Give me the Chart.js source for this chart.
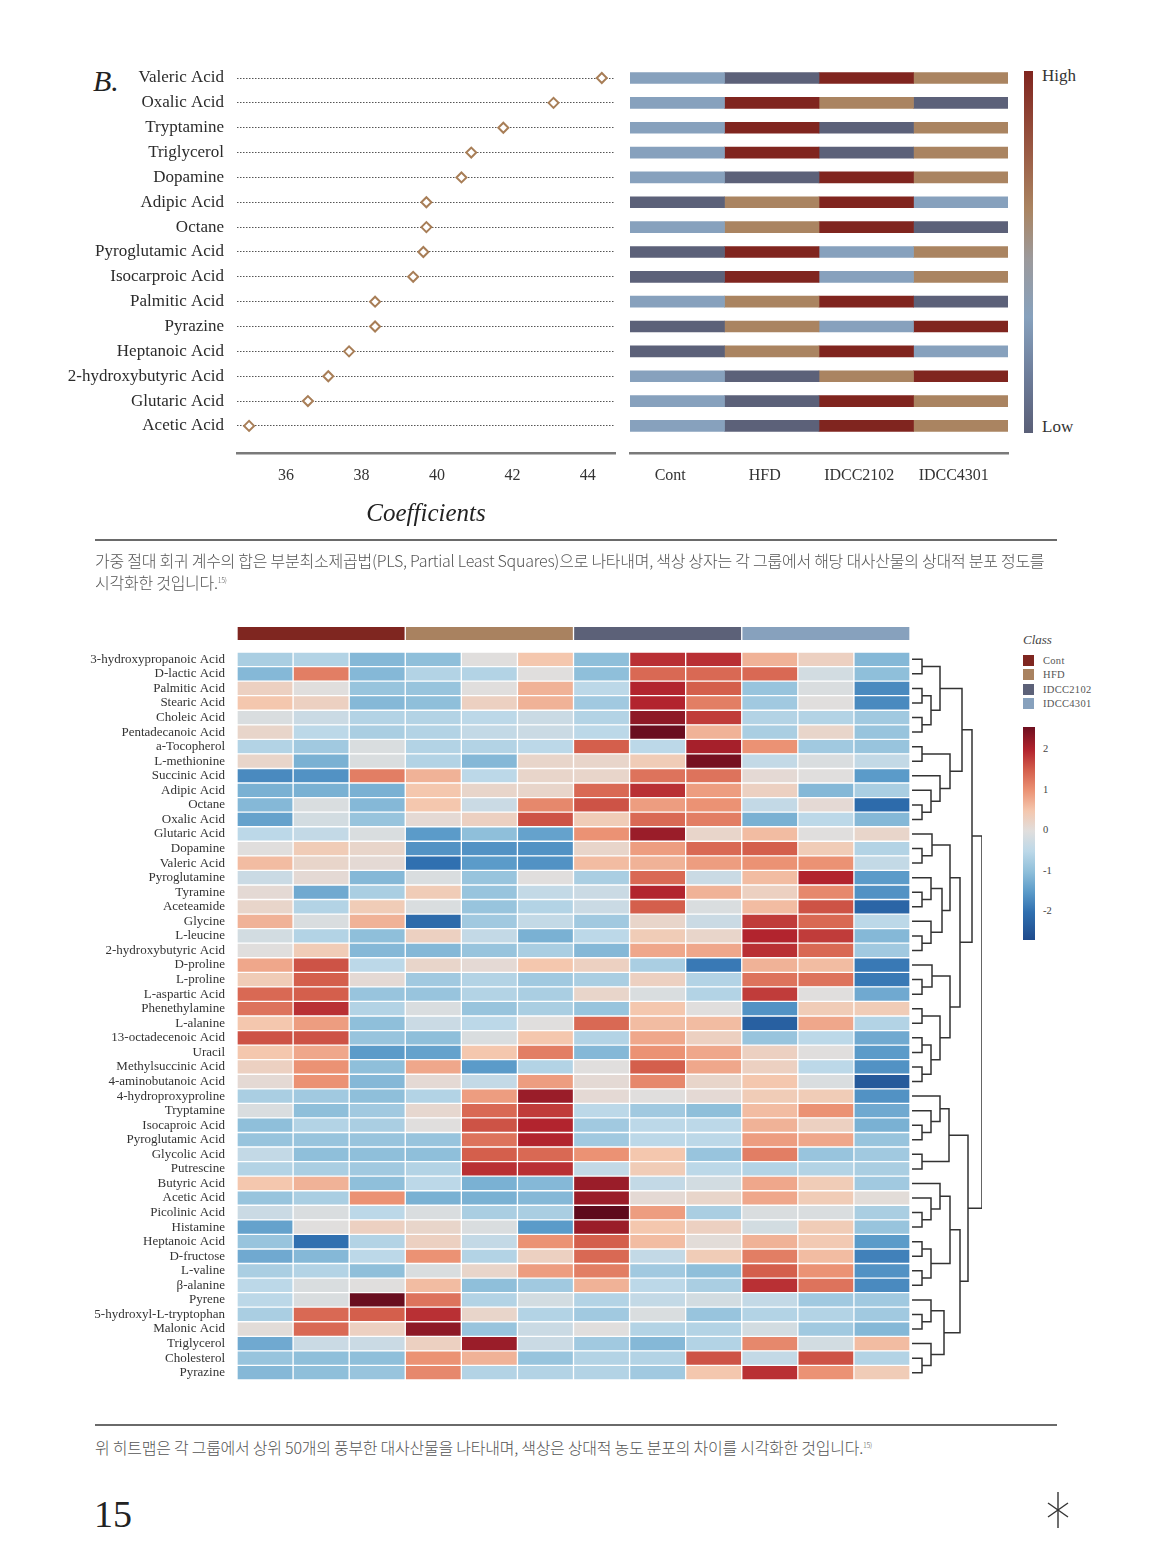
<!DOCTYPE html>
<html>
<head>
<meta charset="utf-8">
<script src="https://cdn.jsdelivr.net/npm/chart.js@4.4.1/dist/chart.umd.min.js"></script>
<style>
    body { margin: 0; width: 1157px; height: 1564px; position: relative; overflow: hidden; background: #fff; font-family: 'Liberation Serif', serif; color: #333; }
    canvas { position: absolute; }
    .txt { position: absolute; white-space: nowrap; }
    .rule { position: absolute; left: 95px; width: 962px; height: 2px; background: #6a6a6a; }
    .cap { position: absolute; left: 95px; font-family: 'Noto Sans CJK KR', sans-serif; font-weight: 300; font-size: 16px; line-height: 20px; color: #555; letter-spacing: -0.25px; white-space: nowrap; }
    .cap sup { font-size: 7px; }
    .leg-item { position: absolute; left: 1023px; height: 11px; font-size: 10.5px; line-height: 11px; color: #555; }
    .leg-item span { position: absolute; left: 0; top: 0; width: 11px; height: 11px; }
    .leg-item b { position: absolute; left: 20px; top: 0; font-weight: normal; letter-spacing: 0.3px; }
</style>
</head>
<body>

<div class="txt" style="left:93px; top:64px; font-size:30px; font-style:italic; color:#222;">B.</div>

<canvas id="coefChart" width="620" height="480" style="left:0; top:60px;"></canvas>
<canvas id="rankChart" width="400" height="480" style="left:620px; top:60px;"></canvas>

<div id="rankBar" style="position:absolute; left:1024px; top:71px; width:9px; height:362px;"></div>
<div class="txt" style="left:1042px; top:66px; font-size:17px;">High</div>
<div class="txt" style="left:1042px; top:417px; font-size:17px;">Low</div>

<div class="rule" style="top:539px;"></div>
<div class="cap" style="top:550px;">가중 절대 회귀 계수의 합은 부분최소제곱법(PLS, Partial Least Squares)으로 나타내며, 색상 상자는 각 그룹에서 해당 대사산물의 상대적 분포 정도를<br>시각화한 것입니다.<sup>15)</sup></div>

<canvas id="classChart" width="690" height="30" style="left:230px; top:620px;"></canvas>
<canvas id="heatChart" width="920" height="745" style="left:0; top:645px;"></canvas>
<canvas id="dendroChart" width="85" height="745" style="left:905px; top:645px;"></canvas>

<div class="txt" style="left:1023px; top:632px; font-size:13px; font-style:italic; color:#444;">Class</div>
<div id="classLegend"></div>
<div id="heatBar" style="position:absolute; left:1023px; top:727px; width:12px; height:213px;"></div>
<div id="heatBarTicks"></div>

<div class="rule" style="top:1424px;"></div>
<div class="cap" style="top:1435px;">위 히트맵은 각 그룹에서 상위 50개의 풍부한 대사산물을 나타내며, 색상은 상대적 농도 분포의 차이를 시각화한 것입니다.<sup>15)</sup></div>

<div class="txt" style="left:94px; top:1492px; font-size:38px; color:#222;">15</div>
<svg style="position:absolute; left:1045px; top:1492px;" width="26" height="36">
    <g stroke="#333" stroke-width="1.4">
        <line x1="13" y1="0" x2="13" y2="36"/>
        <line x1="3" y1="11" x2="23" y2="25"/>
        <line x1="3" y1="25" x2="23" y2="11"/>
    </g>
</svg>

<script>
// ---- Datos: gráfico de coeficientes (PLS) ----
const coefLabels = ['Valeric Acid', 'Oxalic Acid', 'Tryptamine', 'Triglycerol', 'Dopamine', 'Adipic Acid', 'Octane',
    'Pyroglutamic Acid', 'Isocarproic Acid', 'Palmitic Acid', 'Pyrazine', 'Heptanoic Acid', '2-hydroxybutyric Acid',
    'Glutaric Acid', 'Acetic Acid'];
const coefValues = [44.37, 43.09, 41.76, 40.91, 40.65, 39.72, 39.72, 39.64, 39.37, 38.36, 38.36, 37.67, 37.12, 36.58, 35.02];
const coefTicks = [36, 38, 40, 42, 44];

// ---- Datos: cajas de color (1 = bajo ... 4 = alto) ----
const groupNames = ['Cont', 'HFD', 'IDCC2102', 'IDCC4301'];
const rankCont = [2, 2, 2, 2, 2, 1, 2, 1, 1, 2, 1, 1, 2, 2, 2];
const rankHFD = [1, 4, 4, 4, 1, 3, 3, 4, 4, 3, 3, 3, 1, 1, 1];
const rankIDCC2102 = [4, 3, 1, 1, 4, 4, 4, 2, 2, 4, 2, 4, 3, 4, 4];
const rankIDCC4301 = [3, 1, 3, 3, 3, 2, 1, 3, 3, 1, 4, 2, 4, 3, 3];

// ---- Datos: heatmap ----
const sampleNames = ['Cont1', 'Cont2', 'Cont3', 'HFD1', 'HFD2', 'HFD3', 'IDCC2102_1', 'IDCC2102_2', 'IDCC2102_3',
    'IDCC4301_1', 'IDCC4301_2', 'IDCC4301_3'];
const classSizes = [3, 3, 3, 3];
const metaboliteNames = ['3-hydroxypropanoic Acid', 'D-lactic Acid', 'Palmitic Acid', 'Stearic Acid', 'Choleic Acid',
    'Pentadecanoic Acid', 'a-Tocopherol', 'L-methionine', 'Succinic Acid', 'Adipic Acid', 'Octane', 'Oxalic Acid',
    'Glutaric Acid', 'Dopamine', 'Valeric Acid', 'Pyroglutamine', 'Tyramine', 'Aceteamide', 'Glycine', 'L-leucine',
    '2-hydroxybutyric Acid', 'D-proline', 'L-proline', 'L-aspartic Acid', 'Phenethylamine', 'L-alanine',
    '13-octadecenoic Acid', 'Uracil', 'Methylsuccinic Acid', '4-aminobutanoic Acid', '4-hydroproxyproline',
    'Tryptamine', 'Isocaproic Acid', 'Pyroglutamic Acid', 'Glycolic Acid', 'Putrescine', 'Butyric Acid',
    'Acetic Acid', 'Picolinic Acid', 'Histamine', 'Heptanoic Acid', 'D-fructose', 'L-valine', 'β-alanine',
    'Pyrene', '5-hydroxyl-L-tryptophan', 'Malonic Acid', 'Triglycerol', 'Cholesterol', 'Pyrazine'];
const heatValues = [
    [-0.7, -0.6, -1.1, -1.0, 0.0, 0.5, -1.0, 1.9, 1.9, 0.7, 0.3, -1.1],
    [-1.1, 1.2, -1.1, -0.6, -0.6, 0.0, -1.0, 1.4, 1.4, 1.4, -0.2, -1.0],
    [0.3, 0.0, -0.9, -0.9, 0.0, 0.7, -0.5, 2.0, 1.5, -0.9, -0.1, -1.7],
    [0.5, 0.3, -1.1, -1.0, 0.3, 0.7, -0.8, 2.0, 1.2, -0.8, 0.0, -1.7],
    [-0.1, -0.3, -0.6, -0.6, -0.5, -0.3, -0.6, 2.3, 1.8, -0.6, -0.6, -0.8],
    [0.2, -0.5, -0.7, -0.6, -0.4, -0.3, -0.5, 2.6, 0.7, -0.7, 0.2, -0.9],
    [-0.6, -0.8, -0.1, -0.6, -0.6, -0.5, 1.5, -0.5, 2.1, 1.0, -0.8, -0.9],
    [0.2, -1.2, -0.1, -0.6, -1.1, 0.2, 0.2, 0.4, 2.5, -0.4, -0.1, -0.4],
    [-1.7, -1.6, 1.2, 0.7, -0.5, 0.2, 0.2, 1.3, 1.3, 0.1, 0.0, -1.5],
    [-1.2, -1.2, -1.2, 0.5, 0.2, 0.2, 1.4, 1.9, 0.9, 0.3, -1.1, -0.7],
    [-1.1, -0.1, -1.1, 0.5, -0.3, 1.1, 1.6, 0.9, 1.0, -0.4, 0.1, -2.1],
    [-1.4, -0.2, -0.9, 0.1, 0.3, 1.6, 0.4, 1.4, 1.2, -1.2, -0.5, -1.1],
    [-0.5, -0.4, -0.1, -1.5, -1.0, -1.4, 1.0, 2.2, 0.2, 0.6, 0.0, 0.2],
    [0.0, 0.4, 0.2, -1.6, -1.6, -1.6, 0.2, 0.9, 1.4, 1.5, 0.4, -0.6],
    [0.6, 0.2, 0.1, -2.0, -1.5, -1.6, 0.6, 0.7, 0.9, 1.0, 1.0, -0.4],
    [-0.3, 0.1, -1.1, -0.1, -0.9, 0.0, -0.7, 1.4, -0.3, 0.6, 2.0, -1.5],
    [0.1, -1.3, -0.7, 0.4, -0.9, -0.4, -0.3, 2.0, 0.7, 0.3, 1.1, -1.6],
    [0.2, -0.6, 0.4, -0.1, -0.9, -0.6, -0.3, 1.5, -0.1, 0.6, 1.6, -2.2],
    [0.7, -0.1, 0.7, -2.1, -0.8, -0.4, -0.8, 0.2, -0.3, 1.8, 1.4, -0.5],
    [-0.2, -0.6, -1.0, 0.3, -0.4, -1.2, -0.5, 0.4, 0.2, 2.0, 1.8, -1.1],
    [0.0, 0.4, -1.1, -1.1, -0.9, -0.7, -1.1, 0.8, 0.8, 1.9, 1.4, -0.8],
    [0.8, 1.6, -0.5, 0.2, 0.1, 0.5, 0.3, -0.7, -1.9, 0.7, 0.6, -1.9],
    [0.4, 1.5, 0.1, -0.8, -0.6, -0.8, -0.7, 0.3, -0.6, 1.3, 1.3, -1.9],
    [1.4, 1.5, -0.9, -0.9, -0.6, -0.7, 0.2, -0.1, -0.6, 1.8, 0.0, -1.3],
    [1.3, 1.9, -0.6, -0.1, -0.9, -0.7, -0.9, 0.5, 0.0, -1.6, 0.4, 0.4],
    [0.5, 0.9, -1.0, -0.3, -0.5, 0.0, 1.4, 0.6, 0.6, -2.3, 0.8, -0.6],
    [1.6, 1.6, -0.9, -1.0, -0.1, 0.5, -0.6, 0.8, 0.3, -0.9, -0.5, -1.3],
    [0.5, 0.8, -1.5, -1.4, 0.5, 1.2, -1.1, 1.0, 0.8, 0.3, 0.0, -1.5],
    [0.3, 1.0, -1.0, 0.8, -1.5, -0.6, 0.0, 1.5, 0.8, 0.3, -0.5, -1.6],
    [0.1, 1.0, -1.1, 0.1, -0.4, 0.9, 0.1, 1.1, 0.2, 0.5, -0.1, -2.4],
    [-0.7, -0.8, -1.0, -0.6, 0.9, 2.2, 0.1, 0.0, 0.1, 0.4, 0.4, -1.6],
    [-0.1, -1.0, -0.8, 0.15, 1.4, 1.8, -0.5, -0.8, -1.0, 0.6, 1.0, -1.3],
    [-1.0, -0.6, -0.7, 0.0, 1.6, 2.0, -0.8, -0.5, -0.5, 0.7, 0.3, -1.2],
    [-0.9, -0.9, -0.9, -0.9, 1.3, 2.0, -0.8, -0.5, -0.5, 0.9, 0.8, -0.9],
    [-0.4, -1.0, -1.0, -1.0, 1.5, 1.4, 1.0, 0.5, -0.9, 1.2, -0.9, -0.8],
    [-0.6, -0.7, -0.8, -0.6, 1.9, 1.9, -0.4, 0.4, -0.5, -0.6, -0.6, -0.7],
    [0.5, 0.7, -1.0, -0.5, -1.2, -1.1, 2.2, -0.4, -0.2, 0.8, 0.4, -0.8],
    [-0.9, -0.7, 1.0, -1.2, -1.2, -1.1, 2.2, 0.1, 0.2, 0.8, 0.4, 0.05],
    [-0.3, -0.1, -0.5, -0.1, -0.7, -0.7, 2.7, 0.9, -0.7, -0.1, -0.1, -0.7],
    [-1.4, 0.0, 0.3, 0.2, -0.1, -1.5, 2.2, 0.5, 0.3, -0.2, 0.4, -0.9],
    [-0.9, -2.0, -0.6, 0.3, -0.4, 1.0, 1.5, 0.6, 0.05, 0.7, 0.45, -1.5],
    [-1.3, -1.1, -0.5, 1.0, -0.6, 0.3, 1.4, -0.4, 0.4, 1.2, 0.6, -1.8],
    [-0.7, -0.6, -1.0, -0.1, 0.2, 0.9, 1.2, -0.8, -1.0, 1.5, 1.0, -1.6],
    [-0.5, -0.1, 0.0, 0.6, -1.0, -0.8, 0.7, -0.5, -0.7, 1.9, 1.3, -1.7],
    [-0.5, -0.1, 2.6, 1.3, -0.6, -0.2, -0.6, -0.4, -0.2, -0.4, -0.8, -0.8],
    [-0.7, 1.4, 1.5, 1.9, 0.2, -0.6, -0.8, -0.1, -0.9, -0.6, -0.6, -0.8],
    [0.05, 1.4, 0.3, 2.3, -0.9, -0.3, 0.0, -0.6, -0.6, -0.2, -0.8, -1.1],
    [-1.3, -0.3, -0.3, 0.3, 2.2, -0.3, -0.8, -1.1, -0.6, 1.1, -0.2, 0.6],
    [-0.9, -1.0, -1.0, 1.0, 0.7, -0.9, -0.6, -0.6, 1.6, -0.4, 1.6, -0.6],
    [-1.1, -1.0, -0.9, 1.1, -0.6, -0.6, -0.6, -0.8, 0.5, 1.9, 1.0, 0.4]
];
const heatTicks = [2, 1, 0, -1, -2];
const heatRange = [-2.69, 2.57];

// Dendrograma: [altura, izquierda, derecha]; las hojas son el número de fila (1..50)
const dendroTree = [70,
    [60,
        [50,
            [28, [10, 1, 2], [19, [10, 3, 4], [10, 5, 6]]],
            [38, [10, 7, 8], [28, 9, [19, 10, [10, 11, 12]]]]],
        [48,
            [38, [20, 13, [10, 14, 15]], [30, [19, 16, [10, 17, 18]], [19, 19, [10, 20, 21]]]],
            [38, [20, 22, [10, 23, 24]], [28, [10, 25, 26], [19, [10, 27, 28], [10, 29, 30]]]]]],
    [56,
        [37, [28, 31, [19, 32, [10, 33, 34]]], [10, 35, 36]],
        [48,
            [38, [28, 37, [19, 38, [10, 39, 40]]], [19, [10, 41, 42], [10, 43, 44]]],
            [32, [19, 45, [10, 46, 47]], [19, 48, [10, 49, 50]]]]]];

// ---- Estilos ----
const SERIF = "'Liberation Serif', serif";
const rankColors = ['#5c6179', '#87a1bd', '#aa8461', '#80251f'];
const classColors = ['#7f2620', '#a98260', '#5c6178', '#87a1bd'];
const heatStops = [[-2.7, '#1e4a8c'], [-2.0, '#3070b0'], [-1.5, '#5b9bc9'], [-1.0, '#8fbfda'], [-0.5, '#bcd8e8'],
    [0, '#e0dedd'], [0.5, '#f4c7ae'], [1.0, '#eb9274'], [1.5, '#d45f4c'], [2.0, '#b2242e'], [2.7, '#5e0a1c']];

function hexToRgb(h) {
    return [parseInt(h.slice(1, 3), 16), parseInt(h.slice(3, 5), 16), parseInt(h.slice(5, 7), 16)];
}
function heatColor(v) {
    if (v <= heatStops[0][0]) return heatStops[0][1];
    for (let i = 1; i < heatStops.length; i++) {
        if (v <= heatStops[i][0]) {
            const [v0, c0] = heatStops[i - 1], [v1, c1] = heatStops[i];
            const t = (v - v0) / (v1 - v0);
            const a = hexToRgb(c0), b = hexToRgb(c1);
            return `rgb(${a.map((x, k) => Math.round(x + (b[k] - x) * t)).join(',')})`;
        }
    }
    return heatStops[heatStops.length - 1][1];
}

// Ancho fijo del eje Y y sin relleno extra arriba/abajo, para alinear los gráficos
const fixY = w => s => { s.width = w; s.paddingTop = 0; s.paddingBottom = 0; };

Chart.defaults.font.family = SERIF;
Chart.defaults.color = '#333';
const noPlugins = { legend: { display: false }, tooltip: { enabled: false } };

// 1. Coeficientes (puntos en rombo)
const rowMax = 15.09;
new Chart(document.getElementById('coefChart'), {
    type: 'scatter',
    data: {
        datasets: [{
            data: coefValues.map((v, i) => ({ x: v, y: i })),
            pointStyle: 'rectRot',
            pointRadius: 5,
            borderColor: '#a87e57',
            backgroundColor: '#fff',
            borderWidth: 2
        }]
    },
    options: {
        responsive: false,
        animation: false,
        layout: { padding: { top: 5.6, right: 5, left: 0, bottom: 0 }, autoPadding: false },
        plugins: noPlugins,
        scales: {
            x: {
                min: 34.7, max: 44.72,
                afterBuildTicks: s => { s.ticks = coefTicks.map(v => ({ value: v })); },
                grid: { display: false, drawTicks: false },
                border: { color: '#7a7a7a', width: 2.5 },
                ticks: { font: { size: 16 }, color: '#333', padding: 13 },
                title: { display: true, text: 'Coefficients', font: { size: 25, style: 'italic' }, color: '#222', padding: { top: 0, bottom: 11 } },
                afterFit: s => { s.height = 87; s.paddingLeft = 0; s.paddingRight = 0; }
            },
            y: {
                min: -0.5, max: rowMax, reverse: true,
                afterBuildTicks: s => { s.ticks = coefLabels.map((_, i) => ({ value: i })); },
                ticks: { callback: v => coefLabels[v], font: { size: 17 }, color: '#2b2b2b', padding: 13 },
                grid: { color: '#555', lineWidth: 1, drawTicks: false },
                border: { display: false, dash: [1.5, 1.5] },
                afterFit: fixY(237)
            }
        }
    }
});

// 2. Cajas de color por grupo
const ranks = [rankCont, rankHFD, rankIDCC2102, rankIDCC4301];
new Chart(document.getElementById('rankChart'), {
    type: 'bar',
    data: {
        datasets: groupNames.map((g, gi) => ({
            label: g,
            data: coefLabels.map((_, i) => ({ x: 1, y: i })),
            backgroundColor: ctx => rankColors[ranks[gi][ctx.dataIndex] - 1],
            barThickness: 11,
            borderWidth: 0
        }))
    },
    options: {
        indexAxis: 'y',
        responsive: false,
        animation: false,
        layout: { padding: { top: 5.6, right: 12, left: 10, bottom: 0 }, autoPadding: false },
        plugins: noPlugins,
        scales: {
            x: {
                stacked: true, min: 0, max: 4,
                afterBuildTicks: s => { s.ticks = groupNames.map((_, i) => ({ value: i + 0.5 })); },
                ticks: { callback: v => groupNames[Math.floor(v)], font: { size: 16 }, color: '#333', padding: 13, labelOffset: -7 },
                grid: { display: false, drawTicks: false },
                border: { color: '#7a7a7a', width: 2.5 },
                afterFit: s => { s.height = 87; s.paddingLeft = 0; s.paddingRight = 0; }
            },
            y: {
                type: 'linear', stacked: true, offset: false, min: -0.5, max: rowMax, reverse: true,
                display: true, ticks: { display: false }, grid: { display: false, drawTicks: false }, border: { display: false },
                afterFit: fixY(0)
            }
        }
    }
});

document.getElementById('rankBar').style.background =
    'linear-gradient(to bottom, #80251f 0%, #9a5a44 22%, #aa8461 38%, #9c9a9c 52%, #87a1bd 68%, #6c7b98 85%, #5a5f77 100%)';

// 3. Barra de clases sobre el heatmap
new Chart(document.getElementById('classChart'), {
    type: 'bar',
    data: {
        labels: ['Class'],
        datasets: groupNames.map((g, gi) => ({
            label: g,
            data: [classSizes[gi]],
            backgroundColor: classColors[gi],
            borderColor: '#fff',
            borderWidth: { left: 1, right: 1, top: 0, bottom: 0 },
            borderSkipped: false,
            barPercentage: 1,
            categoryPercentage: 1
        }))
    },
    options: {
        indexAxis: 'y',
        responsive: false,
        animation: false,
        layout: { padding: { top: 7, right: 10, left: 7, bottom: 10 }, autoPadding: false },
        plugins: noPlugins,
        scales: {
            x: { stacked: true, min: 0, max: sampleNames.length, display: false },
            y: { stacked: true, display: false }
        }
    }
});

// 4. Heatmap (celdas como barras apiladas de ancho 1, color = valor)
new Chart(document.getElementById('heatChart'), {
    type: 'bar',
    data: {
        labels: metaboliteNames,
        datasets: sampleNames.map((s, c) => ({
            label: s,
            data: metaboliteNames.map(() => 1),
            backgroundColor: ctx => heatColor(heatValues[ctx.dataIndex][c]),
            borderColor: '#fff',
            borderWidth: 1,
            borderSkipped: false,
            barPercentage: 1,
            categoryPercentage: 1
        }))
    },
    options: {
        indexAxis: 'y',
        responsive: false,
        animation: false,
        layout: { padding: { top: 7, right: 10, left: 0, bottom: 10 }, autoPadding: false },
        plugins: noPlugins,
        scales: {
            x: { stacked: true, min: 0, max: sampleNames.length, display: false },
            y: {
                stacked: true,
                ticks: { font: { size: 13 }, color: '#333', padding: 12, autoSkip: false },
                grid: { display: false, drawTicks: false },
                border: { display: false },
                afterFit: fixY(237)
            }
        }
    }
});

// 5. Dendrograma
const dendroSets = [];
function walk(node) {
    if (typeof node === 'number') return { y: node - 1, h: 0 };
    const [h, a, b] = node;
    const l = walk(a), r = walk(b);
    dendroSets.push({
        data: [{ x: l.h, y: l.y }, { x: h, y: l.y }, { x: h, y: r.y }, { x: r.h, y: r.y }],
        showLine: true, pointRadius: 0, borderColor: '#333', borderWidth: 1.5
    });
    return { y: (l.y + r.y) / 2, h };
}
walk(dendroTree);
new Chart(document.getElementById('dendroChart'), {
    type: 'scatter',
    data: { datasets: dendroSets },
    options: {
        responsive: false,
        animation: false,
        layout: { padding: { top: 7, right: 8, left: 7, bottom: 10 }, autoPadding: false },
        plugins: noPlugins,
        scales: {
            x: { min: 0, max: dendroTree[0], display: false },
            y: { min: -0.5, max: metaboliteNames.length - 0.5, reverse: true, display: false }
        }
    }
});

// 6. Leyendas
const legend = document.getElementById('classLegend');
groupNames.forEach((g, i) => {
    legend.innerHTML += `<div class="leg-item" style="top:${655 + i * 14.4}px"><span style="background:${classColors[i]}"></span><b>${g}</b></div>`;
});
const [lo, hi] = heatRange;
const grad = heatStops.map(([v, c]) => `${c} ${((hi - v) / (hi - lo) * 100).toFixed(1)}%`).reverse();
document.getElementById('heatBar').style.background = `linear-gradient(to bottom, ${grad.join(', ')})`;
const tickBox = document.getElementById('heatBarTicks');
heatTicks.forEach(v => {
    const y = 727 + (hi - v) / (hi - lo) * 213;
    tickBox.innerHTML += `<div class="txt" style="left:1043px; top:${y - 7}px; font-size:10.5px; color:#444;">${v}</div>`;
});
</script>
</body>
</html>
